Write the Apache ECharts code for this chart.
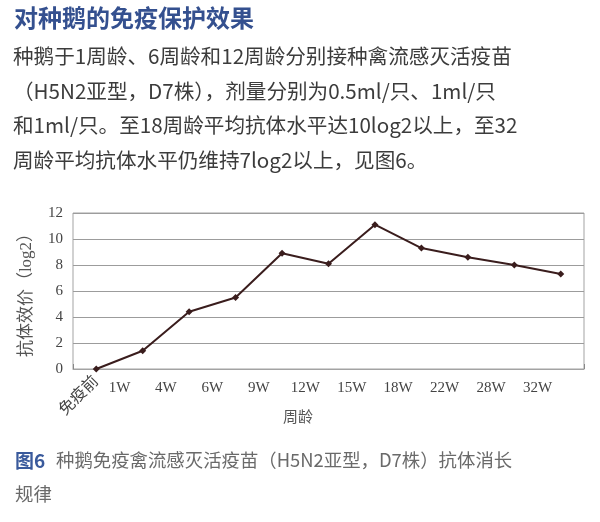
<!DOCTYPE html>
<html>
<head>
<meta charset="utf-8">
<script src="https://cdn.jsdelivr.net/npm/echarts@6/dist/echarts.min.js"></script>
<style>html,body{margin:0;padding:0;background:#fff}#c{width:600px;height:522px}</style>
</head>
<body>
<div id="c"></div>
<script>
const categories = ['免疫前', '1W', '4W', '6W', '9W', '12W', '15W', '18W', '22W', '28W', '32W'];
const antibodyTiter = [0, 1.4, 4.4, 5.5, 8.9, 8.1, 11.1, 9.3, 8.6, 8.0, 7.3];
const yTicks = [0, 2, 4, 6, 8, 10, 12];

const titleText = '对种鹅的免疫保护效果';
const paraLines = [
  '种鹅于1周龄、6周龄和12周龄分别接种禽流感灭活疫苗',
  '（H5N2亚型，D7株），剂量分别为0.5ml/只、1ml/只',
  '和1ml/只。至18周龄平均抗体水平达10log2以上，至32',
  '周龄平均抗体水平仍维持7log2以上，见图6。'
];
const captionLabel = '图6';
const captionLines = ['种鹅免疫禽流感灭活疫苗（H5N2亚型，D7株）抗体消长', '规律'];
const xName = '周龄';
const yName = '抗体效价（log2）';

const SANS = '"Noto Sans CJK SC", "Noto Sans", sans-serif';
const SERIF = '"Liberation Serif", "Times New Roman", "Noto Sans CJK SC", serif';

const chart = echarts.init(document.getElementById('c'), null, {renderer: 'canvas'});

const graphics = [
  {type: 'text', left: 14, top: 6, style: {text: titleText, font: 'bold 24px ' + SANS, fill: '#34508f'}},
];
paraLines.forEach((t, i) => {
  graphics.push({type: 'text', left: 13, top: 46 + i * 34.5, style: {text: t, font: '20.6px ' + SANS, fill: '#3c3c3c'}});
});
graphics.push({type: 'text', left: 15, top: 451, style: {text: captionLabel, font: 'bold 19px ' + SANS, fill: '#3a5a9c'}});
graphics.push({type: 'text', left: 56, top: 451, style: {text: captionLines[0], font: '18.4px ' + SANS, fill: '#6a6a6a'}});
graphics.push({type: 'text', left: 15, top: 485, style: {text: captionLines[1], font: '18.4px ' + SANS, fill: '#6a6a6a'}});
graphics.push({type: 'text', x: 298, y: 418, style: {text: xName, font: '15px ' + SERIF, fill: '#555', textAlign: 'center', textVerticalAlign: 'middle'}});

const option = {
  backgroundColor: '#fff',
  animation: false,
  graphic: graphics,
  grid: {left: 73, right: 16, top: 213, bottom: 153, show: true, borderColor: '#a3a3a3', borderWidth: 1},
  xAxis: [
    {
      type: 'category',
      data: categories,
      boundaryGap: true,
      position: 'bottom',
      axisLine: {show: true, lineStyle: {color: '#a3a3a3', width: 1}},
      axisTick: {show: true, inside: true, length: 5, lineStyle: {color: '#888'}},
      axisLabel: {
        interval: (idx) => idx === 0,
        formatter: (v, idx) => (idx === 0 ? v : ''),
        rotate: 45, margin: 10, fontSize: 16, color: '#444', fontFamily: SERIF
      },
      splitLine: {show: false}
    },
    {
      type: 'category',
      data: [''].concat(categories.slice(1), ['']),
      boundaryGap: false,
      position: 'bottom',
      axisLine: {show: false},
      axisTick: {show: false},
      axisLabel: {interval: 0, margin: 12, fontSize: 15, color: '#444', fontFamily: SERIF},
      splitLine: {show: false}
    }
  ],
  yAxis: {
    type: 'value',
    min: yTicks[0], max: yTicks[yTicks.length - 1], interval: 2,
    name: yName, nameLocation: 'middle', nameGap: 38, nameRotate: 90,
    nameTextStyle: {fontSize: 17, color: '#555', fontFamily: SERIF},
    axisLine: {show: false},
    axisTick: {show: false},
    axisLabel: {margin: 10, fontSize: 15, color: '#444', fontFamily: SERIF},
    splitLine: {show: true, lineStyle: {color: '#9c9c9c', width: 1}}
  },
  series: [{
    type: 'line',
    xAxisIndex: 0,
    data: antibodyTiter,
    symbol: 'diamond',
    symbolSize: 7,
    itemStyle: {color: '#3a1d1d'},
    lineStyle: {color: '#3a1d1d', width: 2},
    z: 5
  }]
};
chart.setOption(option);
</script>
</body>
</html>
